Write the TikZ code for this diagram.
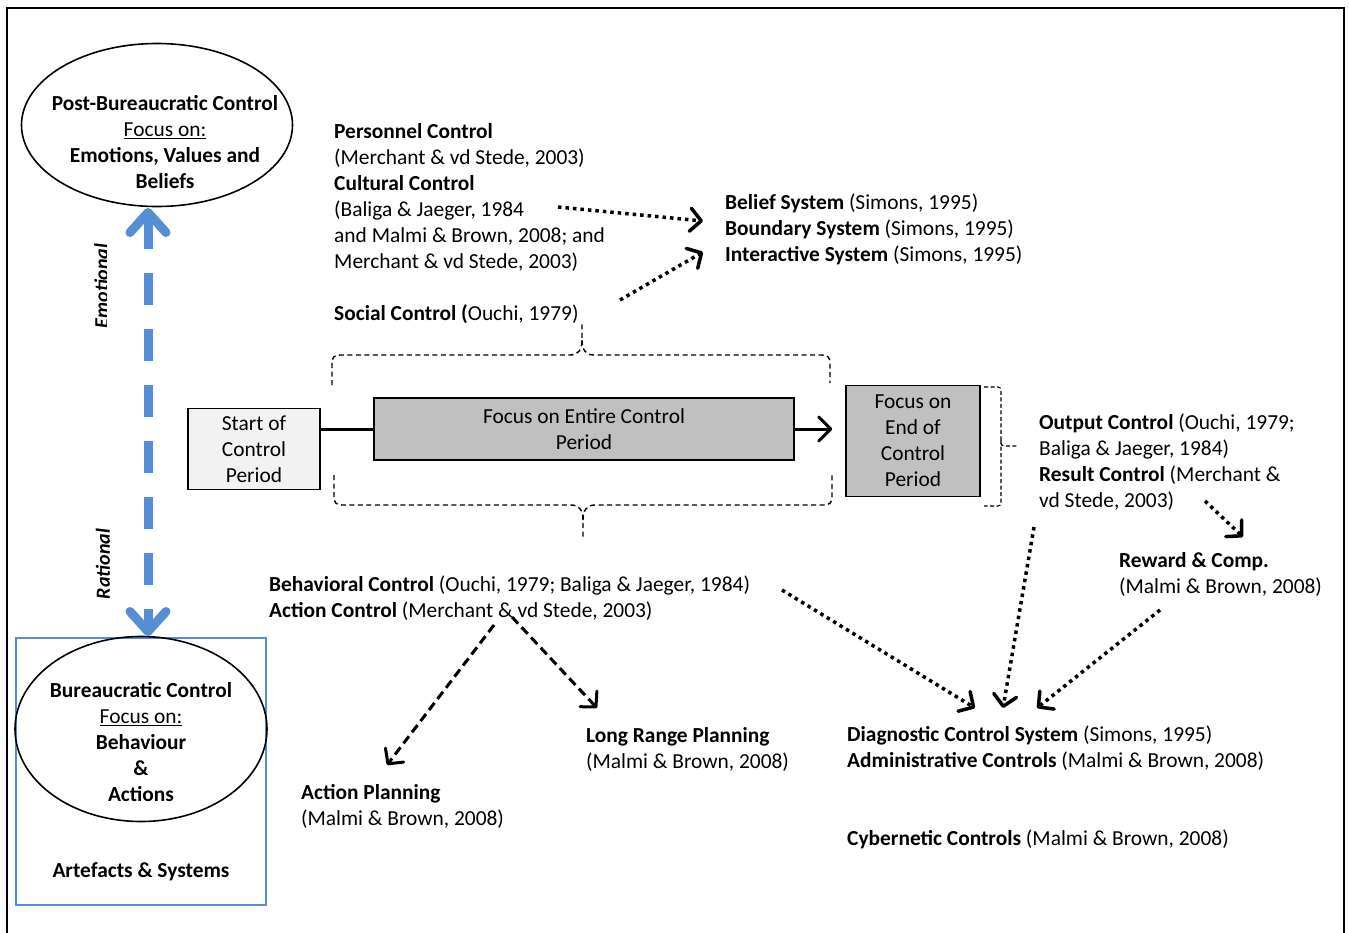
\documentclass[tikz,border=0pt]{standalone}
\usepackage{fontspec}
\setmainfont{Carlito}
\usepackage{tikz}
\usetikzlibrary{arrows.meta,calc,shapes.geometric}
\definecolor{wordblue}{HTML}{558ED5}
\definecolor{boxgray}{HTML}{C0C0C0}
\definecolor{startgray}{HTML}{F2F2F2}
\tikzset{
  txt/.style={anchor=north west, yshift=17.4pt, align=left, inner sep=0pt, font=\fontsize{21.4}{26}\selectfont},
  ctxt/.style={align=center, inner sep=0pt, font=\fontsize{21.4}{26}\selectfont},
  periodbox/.style={draw, line width=1.5pt, align=center, inner sep=0pt, font=\fontsize{21.4}{26}\selectfont},
  ctrlellipse/.style={draw, ellipse, line width=1.6pt, inner sep=0pt},
  bracedash/.style={line width=1.4pt, dash pattern=on 5pt off 3.5pt},
  dotarrow/.style={line width=3.5pt, dash pattern=on 3.5pt off 4pt, -{Straight Barb[length=11pt, width=23pt, round]}},
  dasharrow/.style={line width=3pt, dash pattern=on 9pt off 5pt, -{Straight Barb[length=11pt, width=23pt, round]}},
  sidelbl/.style={ctxt, rotate=90, font=\fontsize{20}{26}\selectfont\bfseries\itshape},
  emoarrow/.style={wordblue, line width=9pt, dash pattern=on 32pt off 24pt, {Straight Barb[length=20pt, width=36pt, round]}-{Straight Barb[length=20pt, width=36pt, round]}}
}
\begin{document}
\begin{tikzpicture}[x=1pt, y=-1pt]
    \useasboundingbox (0,0) rectangle (1349,932);
    %% frame
    \draw[line width=2pt] (7,940) -- (7,8) -- (1344,8) -- (1344,940);
    %% control types on the left
    \node[ctrlellipse, minimum width=271pt, minimum height=163pt] (postbc) at (157,125) {};
    \node[ctxt] (postbctxt) at (165,142) {\textbf{Post-Bureaucratic Control}\\\underline{Focus on:}\\\textbf{Emotions, Values and}\\\textbf{Beliefs}};
    \draw[wordblue, line width=1.5pt] (16,638) rectangle (266,905);
    \node[ctrlellipse, minimum width=252pt, minimum height=185pt] (bc) at (141,729) {};
    \node[ctxt] (bctxt) at (141,742) {\textbf{Bureaucratic Control}\\\underline{Focus on:}\\\textbf{Behaviour}\\\textbf{\&}\\\textbf{Actions}};
    \node[ctxt] (artefacts) at (141,872) {\textbf{Artefacts \& Systems}};
    \coordinate (emo) at (148,208);
    \coordinate (rat) at (148,636);
    \draw[emoarrow] (emo) -- (rat);
    \begin{scope}
      \clip (80,230) rectangle (106.5,340);
      \node[sidelbl] (emolbl) at (101.5,286) {Emotional};
    \end{scope}
    \node[sidelbl] (ratlbl) at (103,564) {Rational};
    %% control period
    \node[periodbox, fill=startgray, minimum width=132pt, minimum height=81pt] (start) at (254,449) {Start of\\Control\\Period};
    \node[periodbox, fill=boxgray, minimum width=420pt, minimum height=62pt] (entire) at (584,429) {Focus on Entire Control\\Period};
    \node[periodbox, fill=boxgray, minimum width=134pt, minimum height=111pt] (endbox) at (913,441) {Focus on\\End of\\Control\\Period};
    \draw[line width=3pt] (start.east |- entire.west) -- (entire.west);
    \draw[line width=3pt, -{Straight Barb[length=12pt, width=24pt, round]}] (entire.east) -- ([xshift=-13pt]endbox.west |- entire.east);
    % braces
    \draw[bracedash] (332,385) -- (332,364) .. controls (332,357) and (334,355) .. (341,355) -- (570,355) .. controls (578,355) and (582,350) .. (582,340) -- (582,324);
    \draw[bracedash] (582,340) .. controls (582,350) and (586,355) .. (594,355) -- (821,355) .. controls (828,355) and (830,357) .. (830,364) -- (830,383);
    \draw[bracedash] (334,475) -- (334,496) .. controls (334,503) and (336,505) .. (343,505) -- (571,505) .. controls (579,505) and (583,510) .. (583,520) -- (583,538);
    \draw[bracedash] (583,520) .. controls (583,510) and (587,505) .. (595,505) -- (823,505) .. controls (830,505) and (832,503) .. (832,496) -- (832,475);
    \draw[line width=1.1pt, dash pattern=on 4pt off 2.5pt, rounded corners=3pt] (984,387) -- (1001,387) -- (1001,446) -- (1018,446);
    \draw[line width=1.1pt, dash pattern=on 4pt off 2.5pt, rounded corners=3pt] (1001,440) -- (1001,506) -- (984,506);
    %% texts
    \node[txt] (personnel) at (334,137) {\strut\textbf{Personnel Control}\\(Merchant \& vd Stede, 2003)\\\textbf{Cultural Control}\\(Baliga \& Jaeger, 1984\\and Malmi \& Brown, 2008; and\\Merchant \& vd Stede, 2003)};
    \node[txt] (social) at (334,319) {\strut\textbf{Social Control (}Ouchi, 1979)};
    \node[txt] (belief) at (725,208) {\strut\textbf{Belief System} (Simons, 1995)\\\textbf{Boundary System} (Simons, 1995)\\\textbf{Interactive System} (Simons, 1995)};
    \node[txt] (output) at (1039,428) {\strut\textbf{Output Control} (Ouchi, 1979;\\Baliga \& Jaeger, 1984)\\\textbf{Result Control} (Merchant \&\\vd Stede, 2003)};
    \node[txt] (reward) at (1119,566) {\strut\textbf{Reward \& Comp.}\\(Malmi \& Brown, 2008)};
    \node[txt] (behav) at (269,590) {\strut\textbf{Behavioral Control} (Ouchi, 1979; Baliga \& Jaeger, 1984)\\\textbf{Action Control} (Merchant \& vd Stede, 2003)};
    \node[txt] (longrange) at (586,741) {\strut\textbf{Long Range Planning}\\(Malmi \& Brown, 2008)};
    \node[txt] (actplan) at (301,798) {\strut\textbf{Action Planning}\\(Malmi \& Brown, 2008)};
    \node[txt] (diag) at (847,740) {\strut\textbf{Diagnostic Control System} (Simons, 1995)\\\textbf{Administrative Controls} (Malmi \& Brown, 2008)};
    \node[txt] (cyber) at (847,844) {\strut\textbf{Cybernetic Controls} (Malmi \& Brown, 2008)};
    %% arrow ends
    \coordinate (cultout) at (558,207);
    \coordinate (beliefin) at (703,221);
    \coordinate (socialout) at (620,300);
    \coordinate (interin) at (703,252);
    \coordinate (resultout) at (1205,501);
    \coordinate (rewardin) at (1243,537);
    \coordinate (behavout) at (782,590);
    \coordinate (diagin1) at (975,708);
    \coordinate (outputout) at (1034,527);
    \coordinate (diagin2) at (1003,708);
    \coordinate (rewardout) at (1160,610);
    \coordinate (diagin3) at (1037,708);
    \coordinate (actout1) at (494,625);
    \coordinate (actplanin) at (387,765);
    \coordinate (actout2) at (512,617);
    \coordinate (longin) at (597,708);
    \draw[dotarrow] (cultout) -- (beliefin);
    \draw[dotarrow] (socialout) -- (interin);
    \draw[dotarrow] (resultout) -- (rewardin);
    \draw[dotarrow] (behavout) -- (diagin1);
    \draw[dotarrow] (outputout) -- (diagin2);
    \draw[dotarrow] (rewardout) -- (diagin3);
    \draw[dasharrow] (actout1) -- (actplanin);
    \draw[dasharrow] (actout2) -- (longin);
\end{tikzpicture}
\end{document}
